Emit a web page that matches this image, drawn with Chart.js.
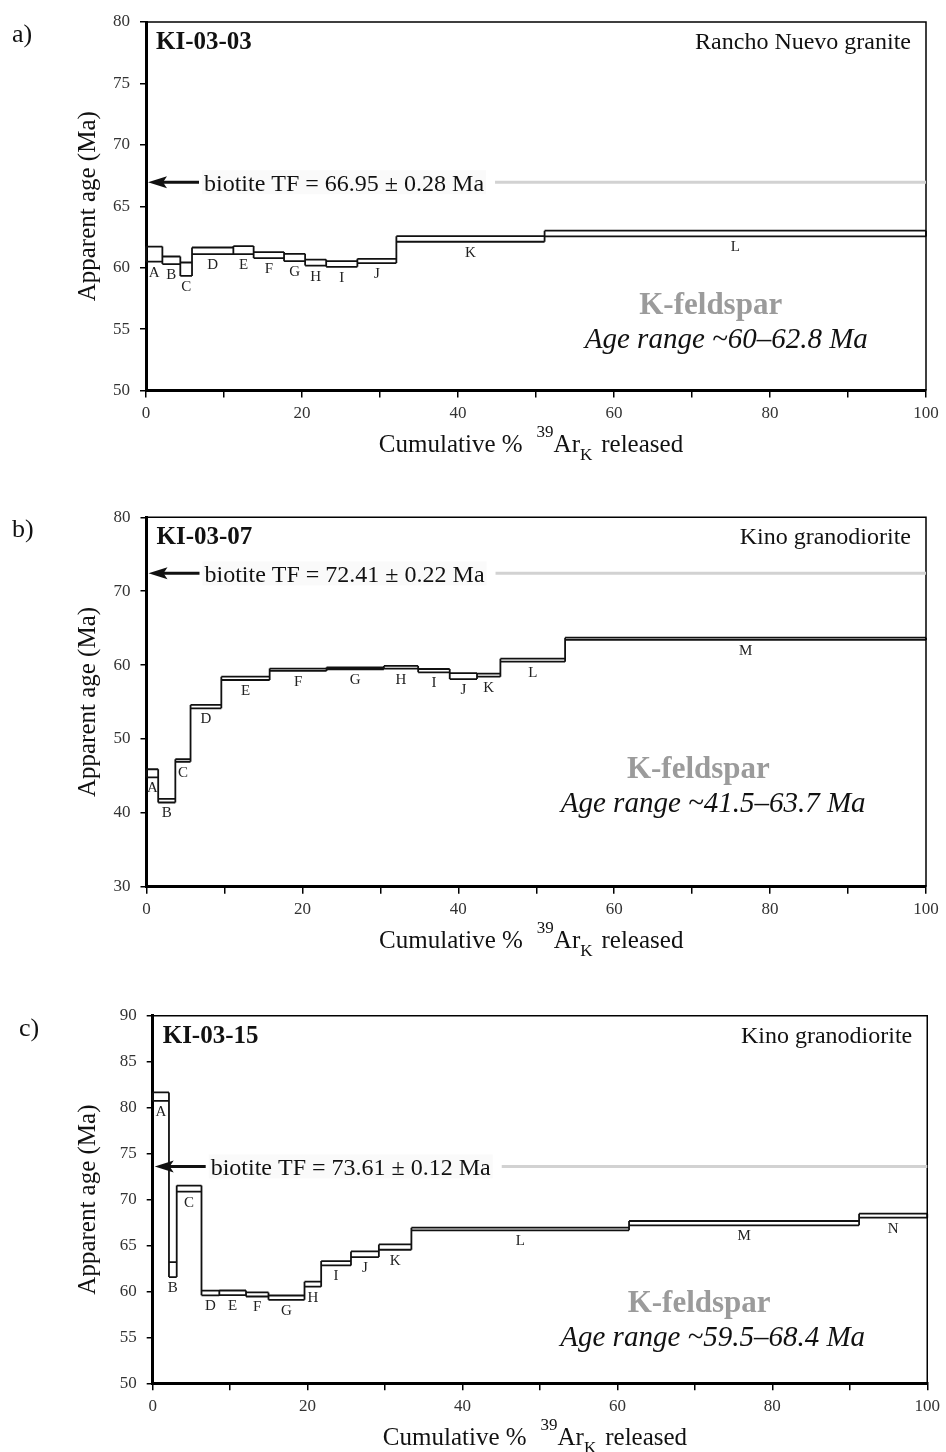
<!DOCTYPE html>
<html>
<head>
<meta charset="utf-8">
<script src="https://cdn.jsdelivr.net/npm/chart.js@4.4.0/dist/chart.umd.min.js"></script>
<style>
  html, body { margin: 0; padding: 0; background: #fff; }
  #wrap { position: relative; width: 946px; height: 1452px; }
  canvas { position: absolute; left: 0; }
</style>
</head>
<body>
<div id="wrap">
  <canvas id="chartA" width="946" height="480" style="top:0px"></canvas>
  <canvas id="chartB" width="946" height="480" style="top:480px"></canvas>
  <canvas id="chartC" width="946" height="492" style="top:960px"></canvas>
</div>
<script>
const SERIF = "'Liberation Serif', 'Times New Roman', Times, serif"

// a) KI-03-03, Rancho Nuevo granite
const stepsA = ["A","B","C","D","E","F","G","H","I","J","K","L"]
const edgesA = [0, 2.1, 4.4, 5.9, 11.2, 13.8, 17.7, 20.4, 23.1, 27.1, 32.1, 51.1, 100]
const loA = [60.50, 60.29, 59.33, 61.10, 61.10, 60.78, 60.53, 60.17, 60.07, 60.37, 62.11, 62.54]
const hiA = [61.72, 60.91, 60.42, 61.64, 61.76, 61.27, 61.13, 60.66, 60.53, 60.72, 62.56, 63.01]
const tfA = 66.95

// b) KI-03-07, Kino granodiorite
const stepsB = ["A","B","C","D","E","F","G","H","I","J","K","L","M"]
const edgesB = [0, 1.5, 3.7, 5.65, 9.6, 15.8, 23.1, 30.45, 34.85, 38.9, 42.4, 45.4, 53.7, 100]
const loB = [44.8, 41.4, 46.9, 54.15, 57.98, 59.2, 59.43, 59.52, 59.02, 58.1, 58.43, 60.46, 63.4]
const hiB = [45.9, 41.9, 47.25, 54.6, 58.43, 59.52, 59.7, 59.88, 59.47, 58.9, 58.85, 60.87, 63.7]
const tfB = 72.41

// c) KI-03-15, Kino granodiorite
const stepsC = ["A","B","C","D","E","F","G","H","I","J","K","L","M","N"]
const edgesC = [0, 2.1, 3.1, 6.3, 8.6, 12.05, 14.95, 19.6, 21.75, 25.6, 29.2, 33.4, 61.5, 91.2, 100]
const loC = [80.75, 61.56, 70.87, 59.58, 59.6, 59.45, 59.09, 60.52, 62.83, 63.74, 64.54, 66.65, 67.2, 68.03]
const hiC = [81.66, 63.2, 71.52, 60.08, 60.1, 59.89, 59.56, 61.06, 63.3, 64.36, 65.12, 66.94, 67.67, 68.47]
const tfC = 73.61

// step boxes: tops, bottoms, and a vertical at each edge spanning both neighbours
function outline(edges, lo, hi) {
  const pts = []
  const gap = x => pts.push({x: x, y: null})
  for (let i = 0; i < lo.length; i++) {
    pts.push({x: edges[i], y: hi[i]}, {x: edges[i + 1], y: hi[i]}); gap(edges[i + 1])
    pts.push({x: edges[i], y: lo[i]}, {x: edges[i + 1], y: lo[i]}); gap(edges[i + 1])
  }
  for (let j = 0; j < edges.length; j++) {
    const nb = [j - 1, j].filter(k => k >= 0 && k < lo.length)
    const bot = Math.min(...nb.map(k => lo[k]))
    const top = Math.max(...nb.map(k => hi[k]))
    pts.push({x: edges[j], y: bot}, {x: edges[j], y: top}); gap(edges[j])
  }
  return pts
}

const agePanel = {
  id: 'agePanel',
  afterDraw(chart, args, p) {
    const {ctx, chartArea: a, scales: {x, y}} = chart
    ctx.save()

    // thin top / right frame
    ctx.strokeStyle = '#000'
    ctx.lineWidth = 1.5
    ctx.beginPath()
    ctx.moveTo(a.left, a.top)
    ctx.lineTo(a.right, a.top)
    ctx.lineTo(a.right, a.bottom)
    ctx.stroke()

    // step letters
    ctx.fillStyle = '#222'
    ctx.font = '15px ' + SERIF
    ctx.textAlign = 'center'
    ctx.textBaseline = 'alphabetic'
    p.steps.forEach((s, i) => {
      const cx = (x.getPixelForValue(p.edges[i]) + x.getPixelForValue(p.edges[i + 1])) / 2
      ctx.fillText(s, cx, y.getPixelForValue(p.lo[i]) + 15)
    })

    // biotite TF arrow, text and grey line
    const ty = y.getPixelForValue(p.tf)
    ctx.font = '24px ' + SERIF
    ctx.textAlign = 'left'
    const tfText = 'biotite TF = ' + p.tf.toFixed(2) + ' \u00b1 ' + p.tfErr.toFixed(2) + ' Ma'
    const tw = ctx.measureText(tfText).width
    ctx.fillStyle = '#fafafa'
    ctx.fillRect(a.left + 56, ty - 12, tw + 4, 24)
    ctx.strokeStyle = '#111'
    ctx.fillStyle = '#111'
    ctx.lineWidth = 3
    ctx.beginPath()
    ctx.moveTo(a.left + 14, ty)
    ctx.lineTo(a.left + 53, ty)
    ctx.stroke()
    ctx.beginPath()
    ctx.moveTo(a.left + 2, ty)
    ctx.lineTo(a.left + 21, ty - 6)
    ctx.lineTo(a.left + 17, ty)
    ctx.lineTo(a.left + 21, ty + 6)
    ctx.closePath()
    ctx.fill()
    ctx.fillText(tfText, a.left + 58, ty + 8.5)
    const tx = a.left + 58 + tw + 11
    ctx.strokeStyle = '#d2d2d2'
    ctx.lineWidth = 3
    ctx.beginPath()
    ctx.moveTo(tx, ty)
    ctx.lineTo(a.right, ty)
    ctx.stroke()

    // sample and rock names
    ctx.fillStyle = '#111'
    ctx.font = 'bold 25px ' + SERIF
    ctx.fillText(p.sample, a.left + 10, a.top + 27)
    ctx.font = '24px ' + SERIF
    ctx.textAlign = 'right'
    ctx.fillText(p.rock, a.right - 15, a.top + 27)

    // panel letter
    ctx.textAlign = 'left'
    ctx.font = '26px ' + SERIF
    ctx.fillText(p.letter, p.letterX, a.top + 20)

    // K-feldspar note
    ctx.textAlign = 'center'
    ctx.fillStyle = '#9b9b9b'
    ctx.font = 'bold 31px ' + SERIF
    ctx.fillText('K-feldspar', x.getPixelForValue(p.kfs[0]), y.getPixelForValue(p.kfs[1]))
    ctx.fillStyle = '#111'
    ctx.font = 'italic 29px ' + SERIF
    ctx.fillText(p.range, x.getPixelForValue(p.rangeAt[0]), y.getPixelForValue(p.rangeAt[1]))

    // y title
    ctx.save()
    ctx.translate(95, (a.top + a.bottom) / 2)
    ctx.rotate(-Math.PI / 2)
    ctx.font = '25px ' + SERIF
    ctx.fillText('Apparent age (Ma)', 0, 0)
    ctx.restore()

    // x title with 39 superscript and K subscript
    const parts = [
      ['Cumulative %', 25, 0, 14],
      ['39', 17, -15, 0],
      ['Ar', 25, 0, 0],
      ['K', 17, 8, 9],
      ['released', 25, 0, 0]
    ]
    let total = 0
    parts.forEach(q => { ctx.font = q[1] + 'px ' + SERIF; total += ctx.measureText(q[0]).width + q[3] })
    let px = (a.left + a.right) / 2 - 5 - total / 2
    const by = a.bottom + 61.5
    ctx.textAlign = 'left'
    parts.forEach(q => {
      ctx.font = q[1] + 'px ' + SERIF
      ctx.fillText(q[0], px, by + q[2])
      px += ctx.measureText(q[0]).width + q[3]
    })

    ctx.restore()
  }
}

function makeChart(id, p) {
  return new Chart(document.getElementById(id), {
    type: 'line',
    data: {
      datasets: [{
        data: outline(p.edges, p.lo, p.hi),
        borderColor: '#111',
        borderWidth: 1.8,
        pointRadius: 0,
        spanGaps: false,
        fill: false,
        tension: 0,
        clip: false
      }]
    },
    options: {
      responsive: false,
      animation: false,
      devicePixelRatio: 1,
      layout: { padding: { top: p.padTop, right: p.padRight, left: 0, bottom: 0 } },
      plugins: { legend: { display: false }, tooltip: { enabled: false }, agePanel: p },
      scales: {
        x: {
          type: 'linear', min: 0, max: 100,
          afterFit: s => { s.height = p.xHeight },
          ticks: {
            stepSize: 10, autoSkip: false, maxRotation: 0, padding: 6, color: '#333',
            font: { family: SERIF, size: 17 },
            callback: v => (v % 20 === 0 ? v : '')
          },
          grid: { drawOnChartArea: false, drawTicks: true, tickLength: 7, color: '#000', lineWidth: 1.5 },
          border: { display: true, color: '#000', width: 3 }
        },
        y: {
          type: 'linear', min: p.yMin, max: p.yMax,
          afterFit: s => { s.width = p.yWidth },
          ticks: { stepSize: p.yStep, padding: 10, color: '#333', font: { family: SERIF, size: 17 } },
          grid: { drawOnChartArea: false, drawTicks: true, tickLength: 6, color: '#000', lineWidth: 1.5 },
          border: { display: true, color: '#000', width: 3 }
        }
      }
    },
    plugins: [agePanel]
  })
}

makeChart('chartA', {
  steps: stepsA, edges: edgesA, lo: loA, hi: hiA, tf: tfA, tfErr: 0.28,
  sample: 'KI-03-03', rock: 'Rancho Nuevo granite', letter: 'a)', letterX: 12,
  range: 'Age range ~60\u201362.8 Ma', kfs: [72.4, 56.23], rangeAt: [74.4, 53.47],
  yMin: 50, yMax: 80, yStep: 5,
  padTop: 22, padRight: 20, yWidth: 146, xHeight: 89.5
})

makeChart('chartB', {
  steps: stepsB, edges: edgesB, lo: loB, hi: hiB, tf: tfB, tfErr: 0.22,
  sample: 'KI-03-07', rock: 'Kino granodiorite', letter: 'b)', letterX: 12,
  range: 'Age range ~41.5\u201363.7 Ma', kfs: [70.8, 44.68], rangeAt: [72.7, 40.16],
  yMin: 30, yMax: 80, yStep: 10,
  padTop: 37.3, padRight: 20, yWidth: 146.5, xHeight: 73.3
})

makeChart('chartC', {
  steps: stepsC, edges: edgesC, lo: loC, hi: hiC, tf: tfC, tfErr: 0.12,
  sample: 'KI-03-15', rock: 'Kino granodiorite', letter: 'c)', letterX: 19,
  range: 'Age range ~59.5\u201368.4 Ma', kfs: [70.55, 57.74], rangeAt: [72.3, 54.11],
  yMin: 50, yMax: 90, yStep: 5,
  padTop: 55.85, padRight: 13.3, yWidth: 152.7, xHeight: 68.7
})
</script>
</body>
</html>
